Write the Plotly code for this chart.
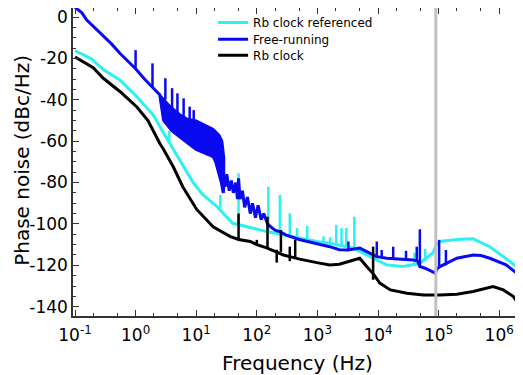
import plotly.graph_objects as go

# Rb clock referenced (cyan): base curve + narrow spurs
cyan_f = [0.1, 0.18, 0.3, 0.55, 1.05, 1.95, 2.9, 4.2, 6.2, 8.9, 13, 17, 22, 40, 78, 100, 145,
          275, 510, 980, 1600, 3900, 7400, 13800, 26000, 49000, 80000, 93000, 105000,
          200000, 370000, 700000, 1170000, 2100000]
cyan_db = [-16.3, -20, -25.6, -30.4, -38.5, -47.3, -56, -64, -72.3, -80, -86, -89, -91.6,
           -99.7, -102, -102.5, -103.7, -105.3, -107, -108.5, -109.3, -111.7, -115.8,
           -119.8, -120.6, -119, -114, -110, -108.5, -107.5, -107.2, -111, -115.8, -121.4]
cyan_spur_f = [3.6, 25, 50, 155, 240, 350, 460, 680, 1260, 1620, 2050, 2500, 3000, 4070,
               40000, 60000]
cyan_spur_lo = [-61, -93, -100.5, -104, -105, -106, -107, -108, -109, -109.5, -110, -110.5,
                -111, -112, -120, -118]
cyan_spur_hi = [-55, -86, -75.5, -82, -86, -94.8, -102, -101, -106, -106.5, -100.5, -102,
                -102, -96.5, -114, -112]

# Free-running (blue): base curve, dense oscillation band, spurs
blue_f = [0.1, 0.13, 0.155, 0.2, 0.3, 0.4, 0.55, 0.75, 1.0, 1.4, 1.9, 2.5, 2.9, 4.0, 5.4, 10,
          19, 21, 26, 28, 29, 30, 32, 35, 38, 41, 45, 48, 50, 53, 58, 63, 70, 78, 85, 95,
          105, 118, 130, 150, 180, 200, 250, 300, 500, 980, 1600, 2300, 3200, 5000, 9500,
          14000, 30000, 38000, 45000, 49000, 60000, 80000, 88000, 92000, 100000, 105000,
          200000, 370000, 500000, 700000, 1300000, 2100000]
blue_db = [4.7, 2, -1.4, -4.5, -9.5, -13, -17.5, -21.5, -25, -30, -34, -37.5, -50, -55, -58,
           -64, -67.5, -70, -80, -85, -78, -82, -76, -84, -79, -85, -80, -88, -78, -88, -84,
           -92, -87, -95, -90, -97, -91, -98, -95, -100, -102, -103, -104, -105.3, -107.5,
           -109.5, -111, -112.5, -112.6, -111.7, -115.8, -116.6, -117, -117.4, -118, -120.6,
           -121.4, -123, -123.8, -122, -121, -120.6, -116.6, -115, -115.3, -116.6, -119.8, -124.6]
blue_band_f = [2.5, 3.7, 5.4, 7, 10, 13, 19, 24, 27, 29]
blue_band_top = [-37.5, -43, -47, -49, -50, -51.5, -54, -57, -60, -68]
blue_spur_f = [1.0, 1.9, 3.1, 4.0, 4.9, 6.2, 7.8, 9.1, 3240, 9550, 11500, 17800, 29000, 43600,
               49000, 102000, 132000]
blue_spur_lo = [-25, -34, -40, -44, -47, -49, -49, -50, -112.6, -115.8, -116, -116.8, -117,
                -117.6, -120.6, -120.6, -120]
blue_spur_hi = [-16, -22.4, -29.6, -34.4, -36.9, -39.3, -43.3, -45, -108.5, -108.5, -112.6,
                -111, -113, -111, -102.6, -107.7, -112.6]

# Rb clock (black)
black_f = [0.1, 0.2, 0.29, 0.55, 1.05, 1.6, 2.5, 2.9, 4.2, 6.0, 10.2, 19, 36, 50, 78, 100,
           145, 275, 350, 430, 510, 980, 1600, 2300, 3900, 5000, 6500, 8300, 10700, 16000,
           30000, 56000, 105000, 200000, 370000, 790000, 1170000, 1700000, 1900000, 2100000]
black_db = [-19.3, -24.5, -29.5, -36, -43.5, -50, -61, -64, -72.5, -82, -93, -101.4, -106,
            -107.5, -108.5, -110, -111.6, -115, -115.8, -116.3, -117, -118.7, -119.8, -119.5,
            -117.7, -116.6, -120.6, -124, -128.6, -131.9, -133.5, -134.3, -134.3, -134,
            -132.7, -130.3, -131.9, -135, -137, -141]
black_spur_f = [50, 100, 150, 213, 250, 350, 430, 8300]
black_spur_lo = [-107.5, -110, -112, -118.7, -113.5, -118, -116.3, -127]
black_spur_hi = [-95, -107.7, -96.5, -112.5, -103, -111, -107.7, -111]

marker_f = 9e4  # gray reference line

font_name = "DejaVu Sans"
CYAN = "#2ef0f0"
BLUE = "#0a0af0"
BLACK = "#000000"


def spur_xy(fs, lo, hi):
    x, y = [], []
    for f, a, b in zip(fs, lo, hi):
        x += [f, f, None]
        y += [a, b, None]
    return x, y


fig = go.Figure()

# cyan
fig.add_trace(go.Scatter(x=cyan_f, y=cyan_db, mode="lines", name="Rb clock referenced",
                         legend="legend", line=dict(color=CYAN, width=3)))
sx, sy = spur_xy(cyan_spur_f, cyan_spur_lo, cyan_spur_hi)
fig.add_trace(go.Scatter(x=sx, y=sy, mode="lines", showlegend=False,
                         line=dict(color=CYAN, width=2.5)))

# blue
fig.add_trace(go.Scatter(x=blue_f, y=blue_db, mode="lines", name="Free-running",
                         legend="legend2", line=dict(color=BLUE, width=3)))
band_x = blue_band_f + [f for f in reversed(blue_f) if 2.5 <= f <= 29]
band_y = blue_band_top + [d for f, d in reversed(list(zip(blue_f, blue_db))) if 2.5 <= f <= 29]
fig.add_trace(go.Scatter(x=band_x, y=band_y, mode="lines", fill="toself", fillcolor=BLUE,
                         showlegend=False, line=dict(color=BLUE, width=2)))
sx, sy = spur_xy(blue_spur_f, blue_spur_lo, blue_spur_hi)
fig.add_trace(go.Scatter(x=sx, y=sy, mode="lines", showlegend=False,
                         line=dict(color=BLUE, width=2.5)))

# black
fig.add_trace(go.Scatter(x=black_f, y=black_db, mode="lines", name="Rb clock",
                         legend="legend3", line=dict(color=BLACK, width=3)))
sx, sy = spur_xy(black_spur_f, black_spur_lo, black_spur_hi)
fig.add_trace(go.Scatter(x=sx, y=sy, mode="lines", showlegend=False,
                         line=dict(color=BLACK, width=2.5)))

# page body adds an 8px offset, so the figure is 8px smaller and the top is trimmed
y_lo, y_hi = -144.5, 4.35
fig.add_trace(go.Scatter(x=[marker_f, marker_f], y=[y_lo, y_hi], mode="lines",
                         showlegend=False, line=dict(color="#c0c0c0", width=3)))

x_ticks = [0.1, 1, 10, 100, 1000, 1e4, 1e5, 1e6]
x_text = ["10<sup>-1</sup>", "10<sup>0</sup>", "10<sup>1</sup>", "10<sup>2</sup>",
          "10<sup>3</sup>", "10<sup>4</sup>", "10<sup>5</sup>", "10<sup>6</sup>"]
y_ticks = [0, -20, -40, -60, -80, -100, -120, -140]
y_text = ["0", "-20", "-40", "-60", "-80", "-100", "-120", "-140"]

leg = dict(x=0.312, xanchor="left", yanchor="top", bgcolor="rgba(0,0,0,0)",
           font=dict(size=12))
fig.update_layout(
    width=515, height=367,
    margin=dict(l=65, r=1, t=0, b=59),
    paper_bgcolor="white", plot_bgcolor="white",
    font=dict(family=font_name, color="black"),
    legend=dict(leg, y=1.001),
    legend2=dict(leg, y=0.946),
    legend3=dict(leg, y=0.894),
)
fig.update_xaxes(
    type="log", range=[-1.033, 6.376], showgrid=False, zeroline=False, automargin=False,
    showline=True, linecolor="#333", linewidth=1.5, mirror="ticks",
    ticks="inside", ticklen=6, tickcolor="#333",
    tickvals=x_ticks, ticktext=x_text, tickfont=dict(size=17), ticklabelstandoff=3,
    minor=dict(ticks="inside", ticklen=3, tickcolor="#333", showgrid=False),
    title=dict(text="Frequency (Hz)", font=dict(size=20), standoff=14),
)
fig.update_yaxes(
    range=[y_lo, y_hi], showgrid=False, zeroline=False, automargin=False,
    showline=True, linecolor="#333", linewidth=1.5, mirror="ticks",
    ticks="inside", ticklen=6, tickcolor="#333", ticklabeloverflow="allow",
    tickvals=y_ticks, ticktext=y_text, tickfont=dict(size=17),
    minor=dict(ticks="inside", ticklen=3, tickcolor="#333", dtick=5, showgrid=False),
)
fig.add_annotation(text="Phase noise (dBc/Hz)", textangle=-90, showarrow=False,
                   xref="paper", yref="paper", x=-0.1448, y=0.507,
                   xanchor="left", yanchor="middle", font=dict(size=20))

fig.write_html("out.html")
